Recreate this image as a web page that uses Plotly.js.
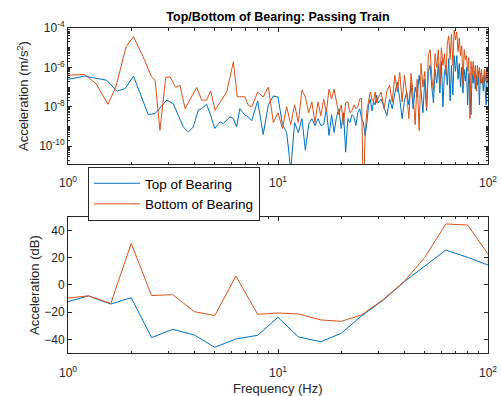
<!DOCTYPE html>
<html>
<head>
<meta charset="utf-8">
<script src="https://cdn.plot.ly/plotly-3.0.1.min.js"></script>
<style>html,body{margin:0;padding:0;background:#fff;}#chart{width:501px;height:396px;}</style>
</head>
<body>
<div id="chart"></div>
<script>
// ---------- DATA ----------
// Top panel: spectrum, values stored as log10(acceleration in m/s^2)
const freqLowTop = [1.0,1.2,1.53,1.71,1.87,2.05,2.41,2.6,2.95,3.17,3.54,3.74,3.95,4.17,4.33,4.57,4.78,5.0,5.29,5.49,5.9,6.13,6.35,6.58,6.96,7.22];
const accLowTopLog10 = [-6.61,-6.44,-6.65,-7.21,-7.07,-6.44,-8.39,-8.34,-7.66,-7.83,-9.02,-9.28,-9.02,-8.17,-8.09,-7.87,-8.43,-9.10,-8.77,-8.85,-8.51,-8.60,-9.02,-8.09,-8.43,-8.5];

const freqLowBottom = [1.0,1.2,1.36,1.55,1.69,1.89,2.05,2.28,2.5,2.6,2.74,2.92,3.06,3.26,3.41,3.61,4.1,4.33,4.57,4.78,5.01,5.7,6.13,6.4,6.96,7.22];
const accLowBottomLog10 = [-6.39,-6.36,-6.82,-7.87,-6.99,-4.95,-4.44,-5.46,-6.48,-6.65,-9.19,-6.51,-6.48,-7.02,-6.90,-8.09,-7.02,-7.66,-7.66,-7.19,-8.17,-7.24,-5.71,-7.49,-7.49,-7.92];

const freqHigh = [7.5,8,8.5,9,9.5,10,10.5,11,11.5,12,12.5,13,13.5,14,14.5,15,15.5,16,
  16.5,17,17.5,18,18.5,19,19.5,20,20.5,21,21.5,22,22.5,23,23.5,24,24.5,25,25.5,26,26.5,27,27.5,28,28.5,29,29.5,30,
  31,32,33,34,35,36,37,38,39,40,41,42,
  43,44,45,46,47,48,49,50,51,52,53,54,55,56,57,58,59,60,61,62,63,64,65,66,67,68,69,70,71,72,
  73,74,75,76,77,78,79,80,81,82,83,84,85,86,87,88,89,90,91,92,93,94,95,96,97,98,99,100];

const accHighTopLog10 = [-8.7,-7.7,-9.4,-7.9,-7.45,-7.5,-8.9,-9.3,-11.2,-8.8,-9.3,-8.6,-10.2,-8.9,-8.6,-8.95,-8.6,-8.95,
  -8.9,-8.1,-9.45,-8.4,-9.3,-8.5,-8.1,-9.1,-8.3,-10.3,-8.6,-8.8,-8.4,-8.5,-8.95,-8.3,-8.1,-8.6,-8.8,-9.45,-8.8,-7.9,-7.6,-8.2,-7.75,-7.9,-7.4,-7.8,
  -7.6,-8.0,-8.45,-7.6,-8.1,-7.3,-6.75,-7.6,-8.6,-7.7,-7.25,-7.9,
  -6.8,-8.1,-7.0,-7.5,-6.4,-7.2,-8.3,-6.6,-8.2,-6.2,-5.9,-7.0,-7.8,-6.1,-6.8,-5.8,-7.3,-5.7,-8.0,-6.3,-5.9,-6.9,-5.55,-7.7,-5.9,-7.4,-5.4,-6.2,-5.4,-6.6,
  -5.8,-7.0,-6.0,-7.3,-6.1,-6.7,-6.0,-7.9,-6.3,-6.9,-8.4,-6.3,-6.8,-6.2,-7.1,-6.4,-6.9,-6.2,-7.9,-6.3,-6.8,-6.5,-7.2,-6.4,-7.0,-7.9,-6.5,-6.8];

const accHighBottomLog10 = [-8.0,-7.25,-7.5,-7.0,-8.8,-8.3,-9.1,-8.0,-8.9,-7.9,-8.8,-7.15,-7.5,-8.3,-7.75,-8.8,-7.75,-8.45,
  -7.6,-8.25,-7.1,-7.6,-7.1,-7.75,-8.4,-7.9,-8.9,-7.8,-7.75,-8.3,-8.2,-7.9,-8.1,-8.0,-7.6,-7.55,-12.5,-9.4,-8.2,-7.7,-7.25,-7.6,-7.75,-7.25,-7.8,-7.55,
  -7.25,-8.1,-7.2,-6.9,-7.75,-6.4,-7.25,-6.25,-7.75,-6.4,-7.3,-8.6,
  -6.3,-7.4,-8.9,-6.6,-9.2,-5.8,-7.0,-6.2,-8.1,-5.4,-5.1,-6.5,-7.2,-5.3,-6.0,-5.1,-6.9,-5.0,-5.9,-5.3,-6.4,-4.8,-4.4,-5.6,-4.3,-5.9,-4.1,-4.6,-4.2,-5.2,
  -4.5,-5.4,-4.9,-6.9,-5.1,-5.6,-5.4,-6.2,-5.5,-8.6,-5.7,-6.4,-5.7,-6.6,-5.9,-7.2,-5.9,-6.5,-6.0,-6.8,-6.1,-6.6,-6.9,-6.1,-6.7,-6.2,-6.8,-6.1];

// Bottom panel: band levels in dB
const bandFreq = [1,1.25,1.6,2,2.5,3.15,4,5,6.3,8,10,12.5,16,20,25,31.5,40,50,63,80,100];
const topDb    = [-12.3,-8,-14,-9.3,-38.7,-32.6,-36.8,-45.8,-39.7,-37,-23.8,-38.2,-41.7,-35.5,-22.7,-11.5,2.5,14.2,25.7,20.3,14.7];
const bottomDb = [-9.6,-8,-13.5,30.6,-7.8,-7.1,-19.6,-22.5,6.6,-21.5,-20.6,-21.3,-25.7,-26.7,-22,-11,2.8,20.3,44.9,44.1,22.8];

const seriesNames = ['Top of Bearing','Bottom of Bearing'];
const xTickVals = [1,10,100];
const xTickText = ['10<sup>0</sup>','10<sup>1</sup>','10<sup>2</sup>'];
const yTopTickVals = [1e-10,1e-8,1e-6,1e-4];
const yTopTickText = ['10<sup>-10</sup>','10<sup>-8</sup>','10<sup>-6</sup>','10<sup>-4</sup>'];
const yBotTickVals = [-40,-20,0,20,40];

// ---------- BUILD ----------
const blue = '#0072BD', orange = '#D95319', axisCol = '#262626';
const pow10 = a => a.map(v => Math.pow(10, v));

const xTop = freqLowTop.concat(freqHigh);
const yTop = pow10(accLowTopLog10.concat(accHighTopLog10));
const xBot = freqLowBottom.concat(freqHigh);
const yBot = pow10(accLowBottomLog10.concat(accHighBottomLog10));

const minorX = [];
[1,10].forEach(d => { for (let k = 2; k <= 9; k++) minorX.push(k*d); });
const minorY = [];
for (let e = -11; e <= -5; e++) { for (let k = 1; k <= 9; k++) { const v = k*Math.pow(10,e); if (!(k===1 && e%2===0)) minorY.push(v); } }

const traces = [
  {x: xTop, y: yTop, xaxis:'x', yaxis:'y', type:'scatter', mode:'lines', name: seriesNames[0], line:{color:blue, width:1}},
  {x: xBot, y: yBot, xaxis:'x', yaxis:'y', type:'scatter', mode:'lines', name: seriesNames[1], line:{color:orange, width:1}},
  {x: bandFreq, y: topDb, xaxis:'x2', yaxis:'y2', type:'scatter', mode:'lines', name: seriesNames[0], showlegend:false, line:{color:blue, width:1}},
  {x: bandFreq, y: bottomDb, xaxis:'x2', yaxis:'y2', type:'scatter', mode:'lines', name: seriesNames[1], showlegend:false, line:{color:orange, width:1}}
];

const axBase = {
  showline:true, linecolor:axisCol, linewidth:1, mirror:'allticks',
  ticks:'inside', ticklen:4, tickcolor:axisCol, tickwidth:1,
  showgrid:false, zeroline:false, tickfont:{size:12, color:axisCol}
};
const top0 = 0.5815, botTop = 0.4185;

const layout = {
  width:501, height:396,
  margin:{l:68, r:13, t:28, b:43},
  paper_bgcolor:'#fff', plot_bgcolor:'#fff',
  font:{family:'Arial, "Liberation Sans", sans-serif', size:12, color:axisCol},
  title:{text:'<b>Top/Bottom of Bearing: Passing Train</b>', font:{size:12.5, color:'#000'}, x:0.5, xref:'paper', y:1-17/396, yref:'container', yanchor:'middle'},
  xaxis: Object.assign({}, axBase, {type:'log', range:[0,2], domain:[0,1], anchor:'y', tickmode:'array', tickvals:xTickVals, ticktext:xTickText, ticklabelstandoff:8,
    minor:{tickmode:'array', tickvals:minorX, ticks:'inside', ticklen:2.5, tickcolor:axisCol, showgrid:false}}),
  yaxis: Object.assign({}, axBase, {type:'log', range:[-10.9,-4], domain:[top0,1], anchor:'x', tickmode:'array', tickvals:yTopTickVals, ticktext:yTopTickText,
    minor:{tickmode:'array', tickvals:minorY, ticks:'inside', ticklen:2, tickcolor:axisCol, showgrid:false}}),
  xaxis2: Object.assign({}, axBase, {type:'log', range:[0,2], domain:[0,1], anchor:'y2', tickmode:'array', tickvals:xTickVals, ticktext:xTickText, ticklabelstandoff:9,
    minor:{tickmode:'array', tickvals:minorX, ticks:'inside', ticklen:2.5, tickcolor:axisCol, showgrid:false}}),
  yaxis2: Object.assign({}, axBase, {range:[-50,50], domain:[0,botTop], anchor:'x2', tickmode:'array', tickvals:yBotTickVals}),
  showlegend:true,
  legend:{x:(88-68)/420, y:(353-167)/325, xanchor:'left', yanchor:'top', xref:'paper', yref:'paper',
    bgcolor:'#fff', bordercolor:axisCol, borderwidth:1, font:{size:13.5, color:'#000'}, tracegroupgap:0, itemwidth:46},
  annotations:[
    {text:'Acceleration (m/s<sup>2</sup>)', xref:'paper', yref:'paper', x:(23-68)/420, y:(top0+1)/2, textangle:-90, showarrow:false, xanchor:'center', yanchor:'middle', font:{size:13, color:axisCol}},
    {text:'Acceleration (dB)', xref:'paper', yref:'paper', x:(35-68)/420, y:botTop/2, textangle:-90, showarrow:false, xanchor:'center', yanchor:'middle', font:{size:13, color:axisCol}},
    {text:'Frequency (Hz)', xref:'paper', yref:'paper', x:0.5, y:(353-388)/325, showarrow:false, xanchor:'center', yanchor:'middle', font:{size:13, color:axisCol}}
  ]
};

Plotly.newPlot('chart', traces, layout, {staticPlot:true, displayModeBar:false});
</script>
</body>
</html>
